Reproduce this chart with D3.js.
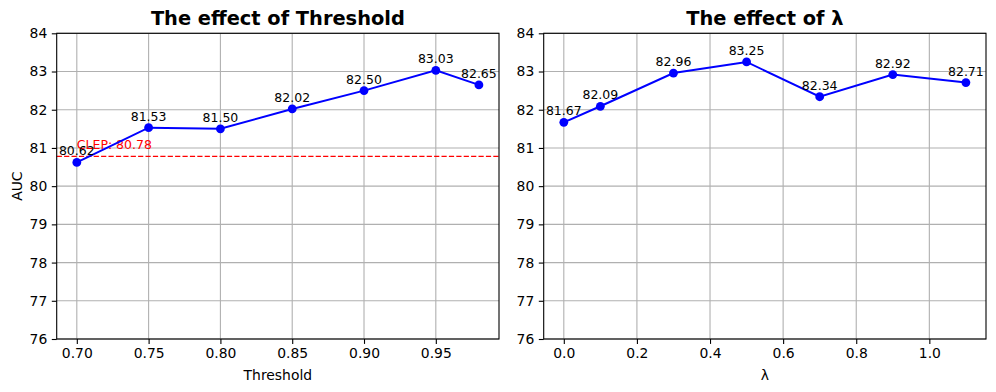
<!DOCTYPE html>
<html>
<head>
<meta charset="utf-8">
<script src="https://cdn.jsdelivr.net/npm/d3@7"></script>
<style>
  html, body { margin: 0; padding: 0; background: #fff; }
  svg { display: block; font-family: "DejaVu Sans", sans-serif; }
</style>
</head>
<body>
<svg id="chart" width="996" height="392"></svg>
<script>
// ---- data ----
const thresholds = [0.70, 0.75, 0.80, 0.85, 0.90, 0.95, 0.98];
const thresholdAUC = [80.62, 81.53, 81.50, 82.02, 82.50, 83.03, 82.65];
const lambdas = [0.0, 0.1, 0.3, 0.5, 0.7, 0.9, 1.1];
const lambdaAUC = [81.67, 82.09, 82.96, 83.25, 82.34, 82.92, 82.71];
const clepValue = 80.78;
const clepLabel = "CLEP: 80.78";
const yTicks = [76, 77, 78, 79, 80, 81, 82, 83, 84];
const thresholdTicks = [0.70, 0.75, 0.80, 0.85, 0.90, 0.95];
const lambdaTicks = [0.0, 0.2, 0.4, 0.6, 0.8, 1.0];
const titles = ["The effect of Threshold", "The effect of λ"];
const xLabels = ["Threshold", "λ"];
const yLabel = "AUC";

const svg = d3.select("#chart");
svg.append("rect").attr("width", 996).attr("height", 392).attr("fill", "#fff");

function panel(opts) {
  const { left, right, top, bottom, xs, ys, xTicks, xFmt, title, xLabel, yLab, ref } = opts;
  const pad = (d3.max(xs) - d3.min(xs)) * 0.05;
  const x = d3.scaleLinear().domain([d3.min(xs) - pad, d3.max(xs) + pad]).range([left, right]);
  const y = d3.scaleLinear().domain([76, 84]).range([bottom, top]);
  const g = svg.append("g");

  // grid
  g.append("g").selectAll("line").data(xTicks).join("line")
    .attr("x1", d => x(d)).attr("x2", d => x(d)).attr("y1", top).attr("y2", bottom)
    .attr("stroke", "#b0b0b0").attr("stroke-width", 1.1);
  g.append("g").selectAll("line").data(yTicks).join("line")
    .attr("x1", left).attr("x2", right).attr("y1", d => y(d)).attr("y2", d => y(d))
    .attr("stroke", "#b0b0b0").attr("stroke-width", 1.1);

  // axes
  const xAxis = d3.axisBottom(x).tickValues(xTicks).tickFormat(xFmt).tickSizeOuter(0).tickSize(4.9).tickPadding(4.5);
  const yAxis = d3.axisLeft(y).tickValues(yTicks).tickFormat(d3.format("d")).tickSizeOuter(0).tickSize(4.9).tickPadding(4.5);
  const gx = g.append("g").attr("transform", `translate(0,${bottom})`).call(xAxis);
  const gy = g.append("g").attr("transform", `translate(${left},0)`).call(yAxis);
  [gx, gy].forEach(a => {
    a.select(".domain").remove();
    a.selectAll(".tick line").attr("stroke", "#000").attr("stroke-width", 1.1);
    a.selectAll(".tick text").attr("fill", "#000").style("font-size", "13.9px").style("font-family", "DejaVu Sans");
  });

  // reference line
  if (ref) {
    g.append("line").attr("x1", left).attr("x2", right)
      .attr("y1", y(ref.value)).attr("y2", y(ref.value))
      .attr("stroke", "#ff0000").attr("stroke-width", 1.4).attr("stroke-dasharray", "5.2,2.2");
    g.append("text").attr("x", x(xs[0])).attr("y", y(ref.value + 0.2))
      .attr("fill", "#ff0000").style("font-size", "12.5px").text(ref.label);
  }

  // line + markers
  const pts = xs.map((d, i) => [d, ys[i]]);
  g.append("path").datum(pts)
    .attr("d", d3.line().x(d => x(d[0])).y(d => y(d[1])))
    .attr("fill", "none").attr("stroke", "#0000ff").attr("stroke-width", 2);
  g.append("g").selectAll("circle").data(pts).join("circle")
    .attr("cx", d => x(d[0])).attr("cy", d => y(d[1])).attr("r", 4.4).attr("fill", "#0000ff");
  g.append("g").selectAll("text").data(pts).join("text")
    .attr("x", d => x(d[0])).attr("y", d => y(d[1]) - 7)
    .attr("text-anchor", "middle").attr("fill", "#000").style("font-size", "12.5px")
    .text(d => d[1].toFixed(2));

  // spines
  g.append("rect").attr("x", left).attr("y", top).attr("width", right - left).attr("height", bottom - top)
    .attr("fill", "none").attr("stroke", "#000").attr("stroke-width", 1.1);

  // title & labels
  g.append("text").attr("x", (left + right) / 2).attr("y", 25).attr("text-anchor", "middle")
    .style("font-size", "19.4px").style("font-weight", "bold").text(title);
  g.append("text").attr("x", (left + right) / 2).attr("y", 380).attr("text-anchor", "middle")
    .style("font-size", "13.9px").text(xLabel);
  if (yLab) {
    g.append("text").attr("transform", `translate(22,${(top + bottom) / 2}) rotate(-90)`)
      .attr("text-anchor", "middle").style("font-size", "13.9px").text(yLab);
  }
}

panel({ left: 56.7, right: 499, top: 33.3, bottom: 339, xs: thresholds, ys: thresholdAUC,
  xTicks: thresholdTicks, xFmt: d3.format(".2f"), title: titles[0], xLabel: xLabels[0], yLab: yLabel,
  ref: { value: clepValue, label: clepLabel } });
panel({ left: 543.7, right: 986, top: 33.3, bottom: 339, xs: lambdas, ys: lambdaAUC,
  xTicks: lambdaTicks, xFmt: d3.format(".1f"), title: titles[1], xLabel: xLabels[1], yLab: null });
</script>
</body>
</html>
